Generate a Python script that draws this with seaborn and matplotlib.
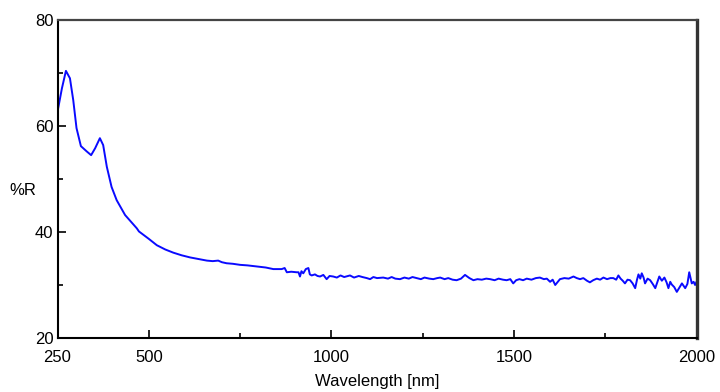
import numpy as np
import pandas as pd
import matplotlib
matplotlib.use("Agg")
import matplotlib.pyplot as plt
import seaborn as sns

# reflectance spectrum
wavelength = [
    250, 262, 273, 284, 293, 302, 314, 330, 342, 353, 366, 375, 385, 398, 412,
    435, 467, 473, 500, 522, 545, 567, 590, 613, 636, 659, 675, 690, 700, 713,
    730, 750, 770, 796, 820, 841, 864, 872, 878, 890, 905, 910, 914, 918, 923,
    930, 937, 941, 946, 955, 962, 969, 978, 987, 995, 1005, 1015, 1025, 1035,
    1051, 1062, 1075, 1085, 1097, 1106, 1115, 1125, 1142, 1155, 1165, 1175,
    1188, 1200, 1212, 1222, 1234, 1245, 1255, 1268, 1279, 1290, 1298, 1310,
    1320, 1332, 1343, 1355, 1366, 1378, 1389, 1400, 1412, 1424, 1435, 1447,
    1458, 1470, 1480, 1490, 1498, 1506, 1515, 1525, 1535, 1548, 1560, 1571,
    1582, 1590, 1599, 1606, 1613, 1620, 1626, 1638, 1650, 1663, 1672, 1681,
    1690, 1700, 1708, 1717, 1727, 1736, 1745, 1755, 1764, 1772, 1780, 1786,
    1792, 1798, 1804, 1811, 1818, 1825, 1832, 1837, 1841, 1846, 1850, 1855,
    1859, 1866, 1873, 1880, 1887, 1893, 1898, 1905, 1912, 1918, 1923, 1928,
    1932, 1939, 1946, 1953, 1960, 1965, 1969, 1975, 1980, 1984, 1987, 1992,
    1996, 2000,
]
reflectance = [
    62.7, 67.1, 70.4, 69.0, 64.9, 59.6, 56.2, 55.2, 54.5, 55.8, 57.7, 56.4,
    52.3, 48.5, 46.0, 43.2, 40.7, 40.1, 38.7, 37.5, 36.7, 36.1, 35.6, 35.2,
    34.9, 34.6, 34.5, 34.6, 34.3, 34.1, 34.0, 33.8, 33.7, 33.5, 33.3, 33.0,
    33.0, 33.2, 32.4, 32.5, 32.4, 32.4, 31.6, 32.6, 32.2, 33.0, 33.2, 32.0,
    31.8, 32.0, 31.7, 31.6, 31.9, 31.1, 31.7, 31.6, 31.4, 31.8, 31.5, 31.8,
    31.4, 31.7, 31.5, 31.3, 31.1, 31.5, 31.3, 31.4, 31.2, 31.5, 31.2, 31.1,
    31.4, 31.2, 31.5, 31.3, 31.1, 31.4, 31.2, 31.1, 31.3, 31.4, 31.1, 31.3,
    31.0, 30.9, 31.2, 31.9, 31.3, 30.9, 31.1, 31.0, 31.2, 31.1, 30.9, 31.2,
    31.0, 30.9, 31.1, 30.3, 30.9, 31.1, 30.9, 31.2, 31.0, 31.3, 31.4, 31.1,
    31.2, 30.6, 31.0, 30.0, 30.6, 31.1, 31.3, 31.2, 31.6, 31.3, 31.1, 31.3,
    30.8, 30.5, 30.9, 31.2, 31.0, 31.4, 31.1, 31.3, 31.3, 31.0, 31.8, 31.2,
    30.8, 30.3, 31.0, 30.9, 30.3, 29.4, 31.0, 32.0, 31.2, 32.2, 31.4, 30.3,
    31.2, 30.9, 30.2, 29.4, 30.6, 31.6, 30.8, 31.4, 30.5, 29.4, 30.6, 30.1,
    29.6, 28.7, 29.5, 30.3, 29.8, 29.4, 30.2, 32.4, 31.2, 30.3, 30.6, 30.0,
    30.6,
]

x_ticks = [250, 500, 1000, 1500, 2000]
x_minor = [750, 1250, 1750]
y_ticks = [20, 40, 60, 80]
y_minor = [30, 50, 70]

df = pd.DataFrame({"Wavelength": wavelength, "R": reflectance})

sns.set_style("white")
plt.rcParams["font.family"] = ["Liberation Sans", "DejaVu Sans"]
plt.rcParams["text.color"] = "black"
plt.rcParams["xtick.color"] = "black"
plt.rcParams["ytick.color"] = "black"
plt.rcParams["axes.labelcolor"] = "black"

fig = plt.figure(figsize=(7.2, 3.92), dpi=100)
ax = fig.add_axes([0.0799, 0.1378, 0.8875, 0.8112])

sns.lineplot(data=df, x="Wavelength", y="R", ax=ax, color="#0a0aff", lw=1.4)

ax.set_xlim(250, 2000)
ax.set_ylim(20, 80)
ax.set_xticks(x_ticks)
ax.set_xticks(x_minor, minor=True)
ax.set_yticks(y_ticks)
ax.set_yticks(y_minor, minor=True)
ax.tick_params(which="major", direction="in", length=6, width=1.2,
               labelsize=12, colors="black")
ax.tick_params(which="minor", direction="in", length=3.5, width=1.2,
               colors="black")
ax.tick_params(axis="x", which="both", bottom=True, pad=9)
ax.tick_params(axis="y", which="both", left=True, pad=3)

ax.set_xlabel("Wavelength [nm]", fontsize=12, labelpad=6)
ax.set_ylabel("%R", fontsize=12, rotation=0, va="center", ha="center")
ax.yaxis.set_label_coords(-0.054, 0.465)

for side in ["left", "bottom"]:
    ax.spines[side].set_color("black")
    ax.spines[side].set_linewidth(1.5)
ax.spines["top"].set_color("#444444")
ax.spines["top"].set_linewidth(1.6)
ax.spines["right"].set_color("#333333")
ax.spines["right"].set_linewidth(2.4)

fig.savefig("out.png", dpi=100)
